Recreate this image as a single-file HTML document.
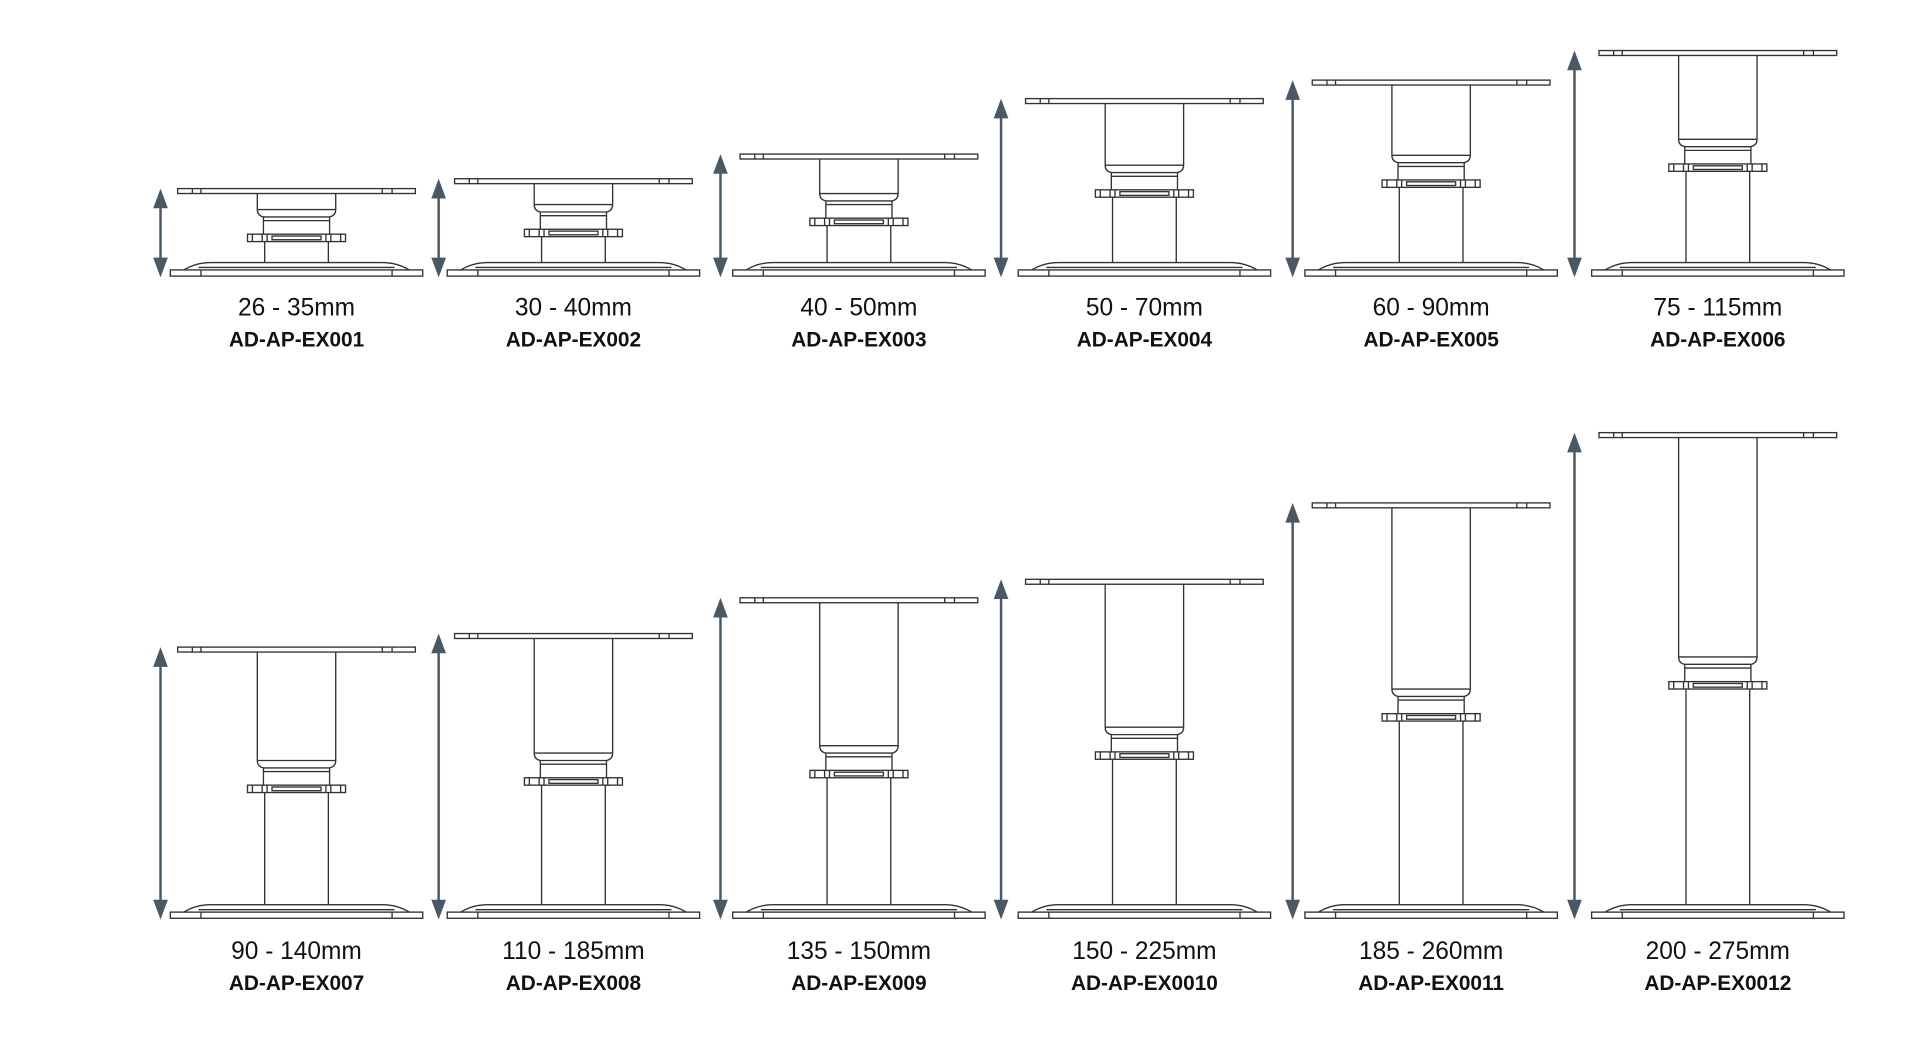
<!DOCTYPE html>
<html><head><meta charset="utf-8"><style>
html,body{margin:0;padding:0;background:#fff;width:1920px;height:1044px;overflow:hidden}
svg{display:block}
text{font-family:"Liberation Sans",sans-serif;text-anchor:middle;fill:#111}
.s{font-size:20px}
.c{font-size:17px;font-weight:bold}
</style></head><body>
<svg id="sv" width="1920" height="1044" viewBox="0 0 1567 847" preserveAspectRatio="none" xmlns="http://www.w3.org/2000/svg">
<g id="g" fill="none" stroke="#333" stroke-width="1.1"></g>
<g id="a"></g>
<text class="s" x="242" y="256">26 - 35mm</text><text class="c" x="242" y="281">AD-AP-EX001</text>
<text class="s" x="468" y="256">30 - 40mm</text><text class="c" x="468" y="281">AD-AP-EX002</text>
<text class="s" x="701" y="256">40 - 50mm</text><text class="c" x="701" y="281">AD-AP-EX003</text>
<text class="s" x="934" y="256">50 - 70mm</text><text class="c" x="934" y="281">AD-AP-EX004</text>
<text class="s" x="1168" y="256">60 - 90mm</text><text class="c" x="1168" y="281">AD-AP-EX005</text>
<text class="s" x="1402" y="256">75 - 115mm</text><text class="c" x="1402" y="281">AD-AP-EX006</text>
<text class="s" x="242" y="778">90 - 140mm</text><text class="c" x="242" y="803">AD-AP-EX007</text>
<text class="s" x="468" y="778">110 - 185mm</text><text class="c" x="468" y="803">AD-AP-EX008</text>
<text class="s" x="701" y="778">135 - 150mm</text><text class="c" x="701" y="803">AD-AP-EX009</text>
<text class="s" x="934" y="778">150 - 225mm</text><text class="c" x="934" y="803">AD-AP-EX0010</text>
<text class="s" x="1168" y="778">185 - 260mm</text><text class="c" x="1168" y="803">AD-AP-EX0011</text>
<text class="s" x="1402" y="778">200 - 275mm</text><text class="c" x="1402" y="803">AD-AP-EX0012</text>
</svg>
<script>
var g=document.getElementById('g'),a=document.getElementById('a');
function el(p,t,at){var e=document.createElementNS('http://www.w3.org/2000/svg',t);for(var k in at)e.setAttribute(k,at[k]);p.appendChild(e);}
function rect(x,y,w,h){el(g,'rect',{x:x,y:y,width:w,height:h});}
function line(x1,y1,x2,y2){el(g,'line',{x1:x1,y1:y1,x2:x2,y2:y2});}
function ped(cx,yt,yb,yc,ax){
 rect(cx-97,yt,194,4);
 [-85,-78,70,78].forEach(function(d){line(cx+d,yt,cx+d,yt+4);});
 var tb=yc-6;
 line(cx-32,yt+4,cx-32,tb-14);line(cx+32,yt+4,cx+32,tb-14);
 el(g,'path',{d:'M'+(cx-32)+' '+(tb-14)+' Q'+(cx-32)+' '+(tb-9)+' '+(cx-27)+' '+(tb-8)+' L'+(cx+27)+' '+(tb-8)+' Q'+(cx+32)+' '+(tb-9)+' '+(cx+32)+' '+(tb-14)});
 line(cx-32,tb-14,cx+32,tb-14);
 line(cx-27,tb-8,cx-27,yc);line(cx+27,tb-8,cx+27,yc);line(cx-27,tb-5,cx+27,tb-5);
 rect(cx-40,yc,80,6);
 [-36,-28,-24,24,28,36].forEach(function(d){line(cx+d,yc,cx+d,yc+6);});
 rect(cx-20,yc+1.5,40,3);
 line(cx-26,yc+6,cx-26,yb-12);line(cx+26,yc+6,cx+26,yb-12);
 el(g,'path',{d:'M'+(cx-92)+' '+(yb-6)+' Q'+(cx-82)+' '+(yb-12)+' '+(cx-70)+' '+(yb-12)+' L'+(cx+70)+' '+(yb-12)+' Q'+(cx+82)+' '+(yb-12)+' '+(cx+92)+' '+(yb-6)});
 line(cx-80,yb-8,cx+80,yb-8);
 rect(cx-103,yb-6,206,5);
 line(cx-78,yb-6,cx-78,yb-1);line(cx+78,yb-6,cx+78,yb-1);
 var c='#4a5866';
 el(a,'line',{x1:ax,y1:yt+10,x2:ax,y2:yb-10,stroke:c,'stroke-width':2});
 el(a,'path',{d:'M'+ax+' '+yt+' L'+(ax-6)+' '+(yt+16)+' L'+(ax+6)+' '+(yt+16)+'Z',fill:c});
 el(a,'path',{d:'M'+ax+' '+yb+' L'+(ax-6)+' '+(yb-16)+' L'+(ax+6)+' '+(yb-16)+'Z',fill:c});
}
var cx=[242,468,701,934,1168,1402],ax=[131,358,588,817,1055,1285];
var t1=[153,145,125,80,65,41],c1=[190,186,177,154,146,133];
var t2=[525,514,485,470,408,351],c2=[637,631,625,610,579,553];
for(var i=0;i<6;i++){ped(cx[i],t1[i],225,c1[i],ax[i]);ped(cx[i],t2[i],746,c2[i],ax[i]);}
</script>
</body></html>
